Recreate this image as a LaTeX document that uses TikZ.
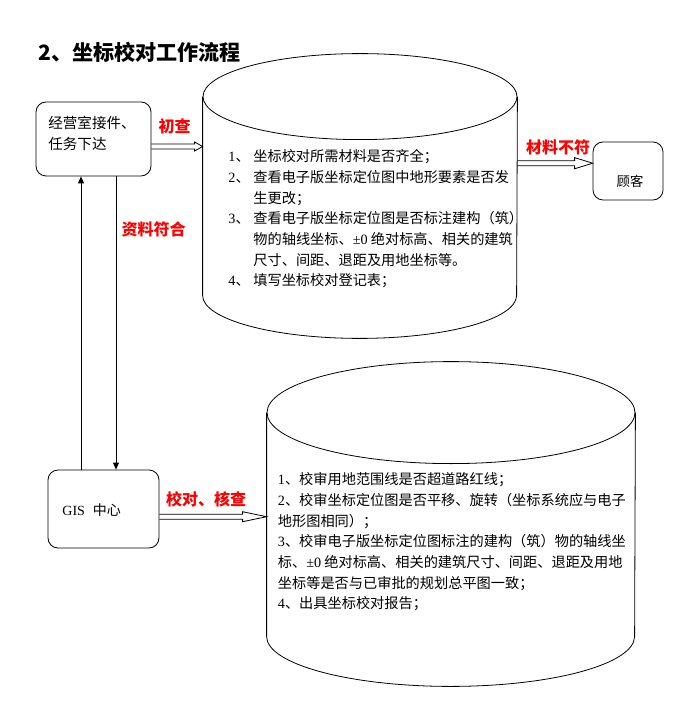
\documentclass[tikz,border=0pt]{standalone}
\usepackage{fontspec}
\setmainfont{Noto Sans CJK SC}
\newfontfamily\lat{Liberation Serif}
\usetikzlibrary{arrows.meta,calc}
\newcommand\itemno[1]{\makebox[18.75pt][l]{{\lat #1}、}}
\begin{document}
\begin{tikzpicture}[x=0.75pt,y=-0.75pt, line width=0.6pt,
  box/.style={draw, rounded corners=7.5pt, inner sep=0},
  lbl/.style={text=red, font=\fontsize{12}{14}\selectfont\bfseries, inner sep=0},
  body/.style={font=\fontsize{10.65}{15.5}\selectfont, align=left, inner sep=0, anchor=north west},
  hollowarrow/.style n args={2}{to path={let \p1=(\tikztostart), \p2=(\tikztotarget) in
     (\x1,\y1+1.9pt) -- (\x2-#1,\y1+1.9pt) -- (\x2-#1,\y1+#2) -- (\x2,\y1)
     -- (\x2-#1,\y1-#2) -- (\x2-#1,\y1-1.9pt) -- (\x1,\y1-1.9pt)}},
  vtip/.style={-{Triangle[length=5.25pt,width=4.5pt]}}
]
\useasboundingbox (0,0) rectangle (692,716);

% title
\node[anchor=west, inner sep=0, font=\fontsize{15.8}{18}\selectfont\bfseries] (title) at (38,52) {2、坐标校对工作流程};

% box 1
\node[box, minimum width=86.25pt, minimum height=55.5pt] (b1) at (93.5,139) {};
\node[body, font=\fontsize{10.9}{15.75}\selectfont] (b1t) at (48,115.5) {经营室接件、\\任务下达};

% cylinder 1
\node[minimum width=235.5pt, minimum height=148.5pt, inner sep=0] (c1) at (360,196) {};
\draw (c1.north) ellipse [x radius=157, y radius=43];
\draw (c1.north west) -- (c1.south west) arc[start angle=180, end angle=0, x radius=157, y radius=43] -- (c1.north east);
\node[body] (c1t) at (228,149.5) {\itemno{1}坐标校对所需材料是否齐全；\\
\itemno{2}查看电子版坐标定位图中地形要素是否发\\
\hspace*{18.75pt}生更改；\\
\itemno{3}查看电子版坐标定位图是否标注建构（筑）\\
\hspace*{18.75pt}物的轴线坐标、{\lat ±0} 绝对标高、相关的建筑\\
\hspace*{18.75pt}尺寸、间距、退距及用地坐标等。\\
\itemno{4}填写坐标校对登记表；};

% customer
\node[box, minimum width=52.5pt, minimum height=43.5pt] (gk) at (628,171) {};
\node[font=\fontsize{10}{12}\selectfont, inner sep=0] (gkt) at (630,181) {顾客};

% GIS
\node[box, minimum width=83.25pt, minimum height=58.5pt] (gis) at (103.5,509) {};
\node[anchor=west, inner sep=0, font=\fontsize{10.5}{12}\selectfont] (gist) at (62,510) {{\lat GIS}\hspace{6pt}中心};

% cylinder 2
\node[minimum width=276pt, minimum height=167.25pt, inner sep=0] (c2) at (451,524.5) {};
\draw (c2.north) ellipse [x radius=184, y radius=51];
\draw (c2.north west) -- (c2.south west) arc[start angle=180, end angle=0, x radius=184, y radius=50] -- (c2.north east);
\node[body] (c2t) at (277.5,472.5) {{\lat 1}、校审用地范围线是否超道路红线；\\
{\lat 2}、校审坐标定位图是否平移、旋转（坐标系统应与电子\\
地形图相同）；\\
{\lat 3}、校审电子版坐标定位图标注的建构（筑）物的轴线坐\\
标、{\lat ±0} 绝对标高、相关的建筑尺寸、间距、退距及用地\\
坐标等是否与已审批的规划总平图一致；\\
{\lat 4}、出具坐标校对报告；};

% connectors
\draw[hollowarrow={6pt}{3.4pt}] (b1.east |- 0,146.5) to (c1.west |- 0,146.5);
\draw[hollowarrow={13.5pt}{4.2pt}] (c1.east |- 0,163.2) to (gk.west |- 0,163.2);
\draw[hollowarrow={18pt}{3.75pt}] (gis.east |- 0,516.7) to (c2.west |- 0,516.7);
\draw[vtip] (gis.north -| 81,0) -- (b1.south -| 81,0);
\draw[vtip] (b1.south -| 116,0) -- (gis.north -| 116,0);

% labels
\node[lbl] (l1) at (174.5,126) {初查};
\node[lbl] (l2) at (558,147) {材料不符};
\node[lbl] (l3) at (153.5,229) {资料符合};
\node[lbl] (l4) at (206,499) {校对、核查};
\end{tikzpicture}
\end{document}
